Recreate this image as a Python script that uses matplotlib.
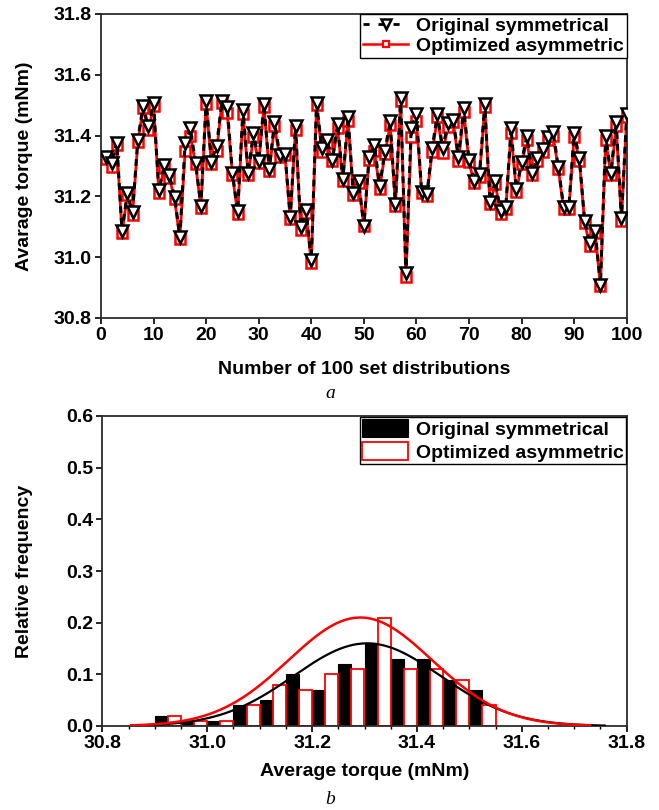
import numpy as np
import matplotlib
matplotlib.use("Agg")
import matplotlib.pyplot as plt
from matplotlib.patches import Patch
from matplotlib.lines import Line2D

# ---------------- data ----------------
set_index = list(range(1, 101))

original_symmetrical = [
    31.330, 31.310, 31.377, 31.087, 31.210, 31.149, 31.385, 31.498, 31.430, 31.506,
    31.220, 31.302, 31.270, 31.199, 31.067, 31.375, 31.424, 31.310, 31.170, 31.515,
    31.314, 31.366, 31.515, 31.495, 31.276, 31.152, 31.484, 31.278, 31.410, 31.316,
    31.503, 31.289, 31.446, 31.336, 31.340, 31.133, 31.430, 31.099, 31.155, 30.990,
    31.506, 31.360, 31.385, 31.320, 31.437, 31.257, 31.460, 31.210, 31.252, 31.102,
    31.330, 31.370, 31.234, 31.348, 31.448, 31.174, 31.525, 30.947, 31.424, 31.470,
    31.216, 31.208, 31.360, 31.470, 31.358, 31.440, 31.452, 31.330, 31.490, 31.320,
    31.252, 31.274, 31.503, 31.183, 31.251, 31.153, 31.166, 31.424, 31.223, 31.314,
    31.398, 31.278, 31.325, 31.355, 31.396, 31.413, 31.296, 31.166, 31.166, 31.410,
    31.325, 31.120, 31.046, 31.087, 30.910, 31.398, 31.276, 31.446, 31.128, 31.470,
]

optimized_asymmetric = [
    31.322, 31.298, 31.370, 31.078, 31.205, 31.140, 31.378, 31.490, 31.418, 31.496,
    31.212, 31.295, 31.262, 31.190, 31.060, 31.349, 31.398, 31.305, 31.162, 31.505,
    31.308, 31.349, 31.508, 31.475, 31.270, 31.142, 31.472, 31.270, 31.396, 31.310,
    31.494, 31.282, 31.430, 31.330, 31.335, 31.125, 31.420, 31.090, 31.146, 30.980,
    31.502, 31.345, 31.375, 31.315, 31.425, 31.252, 31.448, 31.203, 31.245, 31.101,
    31.320, 31.348, 31.225, 31.340, 31.435, 31.168, 31.515, 30.935, 31.396, 31.447,
    31.210, 31.202, 31.346, 31.460, 31.344, 31.428, 31.445, 31.315, 31.478, 31.312,
    31.243, 31.265, 31.495, 31.175, 31.242, 31.143, 31.160, 31.410, 31.215, 31.305,
    31.385, 31.270, 31.318, 31.347, 31.385, 31.398, 31.290, 31.158, 31.160, 31.397,
    31.318, 31.112, 31.038, 31.080, 30.905, 31.385, 31.270, 31.430, 31.120, 31.460,
]

bin_edges = [30.90, 30.95, 31.00, 31.05, 31.10, 31.15, 31.20, 31.25,
             31.30, 31.35, 31.40, 31.45, 31.50, 31.55]

# fitted normal curves (amplitude, mean, sigma, x-range)
sym_fit = dict(amp=0.16, mu=31.305, sigma=0.140, x0=30.855, x1=31.758)
asym_fit = dict(amp=0.21, mu=31.292, sigma=0.137, x0=30.855, x1=31.730)

labels = ["Original symmetrical", "Optimized asymmetric"]

# ---------------- style ----------------
plt.rcParams['font.family'] = ['Liberation Sans', 'DejaVu Sans']
plt.rcParams['font.weight'] = 'bold'
plt.rcParams['axes.labelweight'] = 'bold'
plt.rcParams['font.size'] = 14
plt.rcParams['legend.fancybox'] = False

spine_c = '#2b2b2b'

fig = plt.figure(figsize=(6.59, 8.10), dpi=100)
W, H = 659.0, 810.0
ax1 = fig.add_axes([101 / W, 1 - 318 / H, 525.7 / W, 304 / H])
ax2 = fig.add_axes([102.3 / W, 1 - 726 / H, 524.4 / W, 310 / H])

for ax in (ax1, ax2):
    for s in ax.spines.values():
        s.set_linewidth(1.3)
        s.set_color(spine_c)
    ax.tick_params(which='major', direction='out', length=4.5, width=1.2,
                   pad=2, labelsize=14, colors='black')
    ax.tick_params(which='minor', direction='out', length=2.5, width=1.0)
    ax.tick_params(top=False, right=False)
    for lab in ax.get_xticklabels() + ax.get_yticklabels():
        lab.set_fontweight('bold')

# ---------------- panel a ----------------
ax1.plot(set_index, optimized_asymmetric, color='red', lw=2.0, ls='-',
         marker='s', ms=6.5, mfc='white', mec='red', mew=1.8, zorder=2)
ax1.plot(set_index, original_symmetrical, color='black', lw=2.2,
         ls=(0, (2.2, 1.6)), marker='v', ms=8, mfc='white', mec='black',
         mew=1.8, zorder=3)
ax1.set_xlim(0, 100)
ax1.set_ylim(30.8, 31.8)
ax1.set_xticks(np.arange(0, 101, 10))
ax1.set_yticks([30.8, 31.0, 31.2, 31.4, 31.6, 31.8])
ax1.set_yticklabels(['30.8', '31.0', '31.2', '31.4', '31.6', '31.8'])
ax1.set_xlabel("Number of 100 set distributions", fontsize=14, fontweight='bold')
ax1.set_ylabel("Avarage torque (mNm)", fontsize=14, fontweight='bold')
ax1.xaxis.set_label_coords(0.5, (318 - 370) / 304)
ax1.xaxis.label.set_verticalalignment('center')
ax1.yaxis.set_label_coords((25 - 101) / 525.7, 0.5)
ax1.yaxis.label.set_verticalalignment('center')

h_sym = Line2D([], [], color='black', lw=2.0, ls=(0, (2.2, 3.2)), marker='v',
               ms=7, mfc='white', mec='black', mew=1.8)
h_asym = Line2D([], [], color='red', lw=1.8, ls='-', marker='s', ms=5,
                mfc='white', mec='red', mew=1.6)
leg1 = ax1.legend([h_sym, h_asym], labels, loc='upper right',
                  bbox_to_anchor=(1.0, 1.0), borderaxespad=0, numpoints=1,
                  handlelength=2.3, handletextpad=0.4, borderpad=0.15,
                  labelspacing=0.15, prop={'weight': 'bold', 'size': 14},
                  framealpha=1, edgecolor='black')
leg1.get_frame().set_linewidth(1.0)

# ---------------- panel b ----------------
edges = np.array(bin_edges)
n_sym, _ = np.histogram(original_symmetrical, bins=edges)
n_asym, _ = np.histogram(optimized_asymmetric, bins=edges)
f_sym = n_sym / len(original_symmetrical)
f_asym = n_asym / len(optimized_asymmetric)
bw = np.diff(edges)

ax2.bar(edges[:-1], f_sym, width=bw / 2, align='edge', color='black',
        edgecolor='black', lw=0.8, zorder=2)
ax2.bar(edges[:-1] + bw / 2, f_asym, width=bw / 2, align='edge',
        color='white', edgecolor='red', lw=1.3, zorder=2)


def gauss(fit):
    xx = np.linspace(fit['x0'], fit['x1'], 400)
    return xx, fit['amp'] * np.exp(-(xx - fit['mu']) ** 2 / (2 * fit['sigma'] ** 2))


xs, ys = gauss(sym_fit)
ax2.plot(xs, ys, color='black', lw=1.6, zorder=3)
xa, ya = gauss(asym_fit)
ax2.plot(xa, ya, color='red', lw=1.8, zorder=4)

ax2.set_xlim(30.8, 31.8)
ax2.set_ylim(0, 0.6)
ax2.set_xticks([30.8, 31.0, 31.2, 31.4, 31.6, 31.8])
ax2.set_xticklabels(['30.8', '31.0', '31.2', '31.4', '31.6', '31.8'])
ax2.set_xticks(np.arange(30.85, 31.8, 0.05), minor=True)
ax2.set_yticks([0.0, 0.1, 0.2, 0.3, 0.4, 0.5, 0.6])
ax2.set_yticklabels(['0.0', '0.1', '0.2', '0.3', '0.4', '0.5', '0.6'])
ax2.set_xlabel("Average torque (mNm)", fontsize=14, fontweight='bold')
ax2.set_ylabel("Relative frequency", fontsize=14, fontweight='bold')
ax2.xaxis.set_label_coords(0.5, (726 - 772) / 310)
ax2.xaxis.label.set_verticalalignment('center')
ax2.yaxis.set_label_coords((25 - 102.3) / 524.4, 0.5)
ax2.yaxis.label.set_verticalalignment('center')

p_sym = Patch(facecolor='black', edgecolor='black', lw=0.8)
p_asym = Patch(facecolor='white', edgecolor='red', lw=1.3)
leg2 = ax2.legend([p_sym, p_asym], labels, loc='upper right',
                  bbox_to_anchor=(1.0, 1.0), borderaxespad=0.05,
                  handlelength=2.35, handleheight=1.05, handletextpad=0.4,
                  borderpad=0.12, labelspacing=0.15,
                  prop={'weight': 'bold', 'size': 14},
                  framealpha=1, edgecolor='black')
leg2.get_frame().set_linewidth(1.0)

for ax in (ax1, ax2):
    for lab in ax.get_xticklabels() + ax.get_yticklabels():
        lab.set_fontweight('bold')

# captions
fig.text(330 / W, 1 - 393 / H, "a", fontsize=14, style='italic',
         family=['Liberation Serif', 'DejaVu Serif'], fontweight='normal',
         ha='center', va='center')
fig.text(330 / W, 1 - 800 / H, "b", fontsize=14, style='italic',
         family=['Liberation Serif', 'DejaVu Serif'], fontweight='normal',
         ha='center', va='center')

fig.savefig("out.png", dpi=100)
